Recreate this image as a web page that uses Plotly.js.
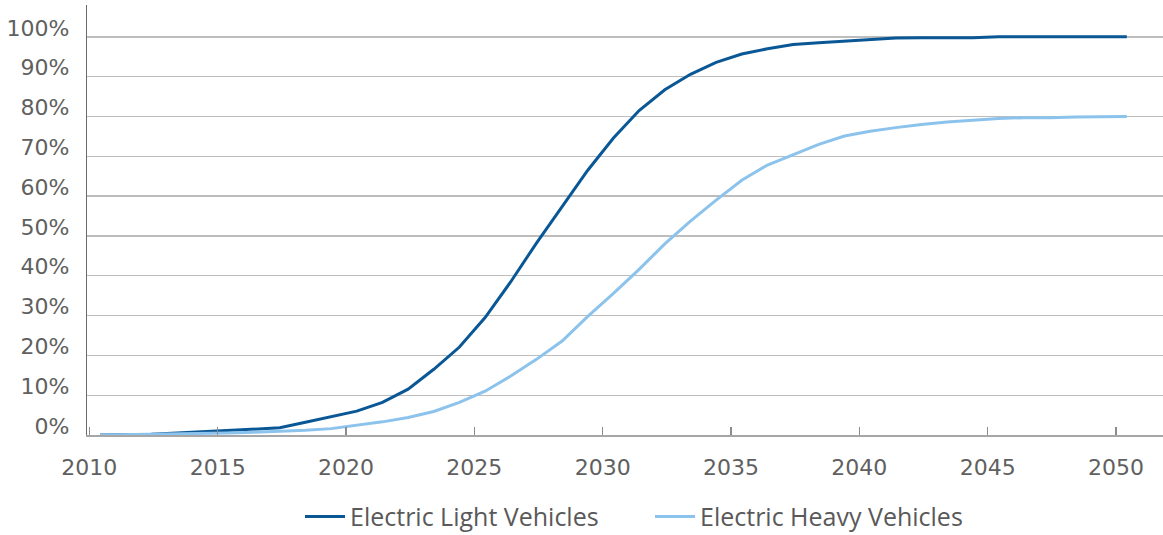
<!DOCTYPE html>
<html>
<head>
<meta charset="utf-8">
<script src="https://cdn.plot.ly/plotly-3.0.1.min.js"></script>
<style>html,body{margin:0;padding:0;background:#fff;}#chart{width:1163px;height:535px;}</style>
</head>
<body>
<div id="chart"></div>
<script>
const years = [2010,2011,2012,2013,2014,2015,2016,2017,2018,2019,2020,2021,2022,2023,2024,2025,2026,2027,2028,2029,2030,2031,2032,2033,2034,2035,2036,2037,2038,2039,2040,2041,2042,2043,2044,2045,2046,2047,2048,2049,2050];
const lightVehicles = [0.0,0.1,0.2,0.5,0.8,1.1,1.4,1.8,3.2,4.6,6.0,8.2,11.5,16.5,22.1,29.5,38.5,48.2,57.5,66.5,74.6,81.5,86.7,90.6,93.6,95.7,97.0,98.1,98.5,98.9,99.3,99.7,99.8,99.8,99.8,100,100,100,100,100,100];
const heavyVehicles = [0.0,0.1,0.1,0.2,0.3,0.5,0.7,0.9,1.2,1.6,2.4,3.3,4.4,5.9,8.2,11.0,14.8,19.0,23.6,29.8,35.6,41.6,48.0,53.7,59.0,64.0,67.8,70.5,73.0,75.1,76.3,77.2,78.0,78.6,79.1,79.5,79.7,79.7,79.9,80,80];
const seriesNames = ['Electric Light Vehicles','Electric Heavy Vehicles'];
const xTickLabels = ['2010','2015','2020','2025','2030','2035','2040','2045','2050'];
const yTickValues = [0,10,20,30,40,50,60,70,80,90,100];
const yTickLabels = yTickValues.map(v => v + '%');

const tickFont = {family: 'DejaVu Sans', size: 22, color: '#606060'};

const traces = [
  {x: years, y: lightVehicles, name: seriesNames[0], type: 'scatter', mode: 'lines',
   line: {color: '#0a5796', width: 3}},
  {x: years, y: heavyVehicles, name: seriesNames[1], type: 'scatter', mode: 'lines',
   line: {color: '#8cc3ec', width: 3}}
];

const layout = {
  width: 1163, height: 535,
  margin: {l: 87, r: 0, t: 5, b: 99.5, autoexpand: false},
  paper_bgcolor: '#ffffff', plot_bgcolor: '#ffffff',
  showlegend: true,
  legend: {orientation: 'h', x: (300 - 87) / 1076, xanchor: 'left', y: -0.19, yanchor: 'middle',
    font: {family: 'Open Sans', size: 25, color: '#595959'}, itemwidth: 40,
    entrywidth: 295, entrywidthmode: 'pixels', tracegroupgap: 0},
  xaxis: {
    range: [2009.49, 2051.41], showgrid: false, zeroline: false,
    tickmode: 'array', tickvals: xTickLabels.map(t => +t - 0.42), ticktext: xTickLabels,
    ticks: 'inside', ticklen: 8, tickcolor: '#8c8c8c', tickwidth: 1.3,
    showline: true, linecolor: '#a6a6a6', linewidth: 1.5,
    tickfont: tickFont, ticklabelstandoff: 12
  },
  yaxis: {
    range: [0, 108], showgrid: true, gridcolor: '#bdbdbd', gridwidth: 1.3, zeroline: false,
    tickmode: 'array', tickvals: yTickValues, ticktext: yTickLabels,
    showline: true, linecolor: '#6b6b6b', linewidth: 1.3, ticks: '',
    tickfont: tickFont, ticklabelstandoff: 12, ticklabelshift: -9
  }
};

Plotly.newPlot('chart', traces, layout, {displayModeBar: false, staticPlot: true});
</script>
</body>
</html>
